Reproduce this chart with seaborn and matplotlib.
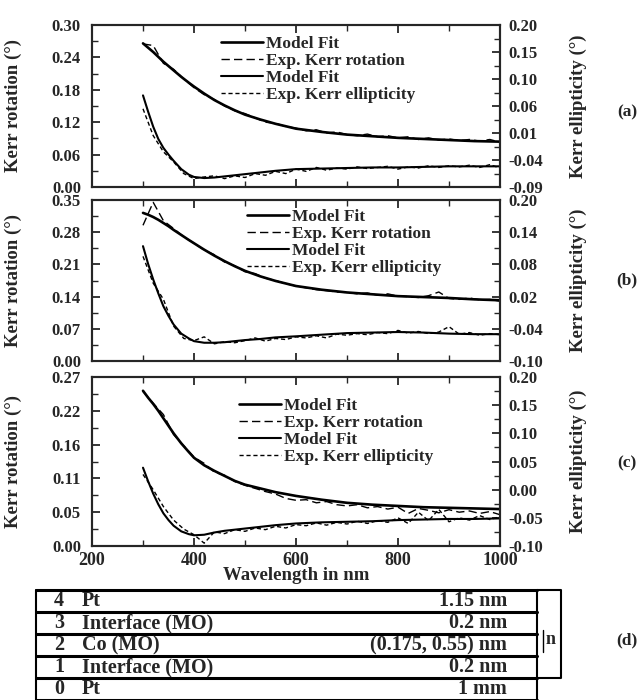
import numpy as np
import seaborn as sns
import matplotlib.pyplot as plt
from matplotlib.ticker import AutoMinorLocator, FixedLocator

sns.set_style('ticks')
plt.rcParams['font.family'] = ['Liberation Serif', 'DejaVu Serif']
plt.rcParams['font.weight'] = 'bold'
plt.rcParams['axes.labelweight'] = 'bold'

# wavelength grids (nm)
wl_fit = [300, 310, 320, 330, 340, 350, 360, 375, 390, 400, 420, 440, 460,
          480, 500, 530, 560, 600, 650, 700, 750, 800, 850, 900, 950, 1000]
wl_exp = [300, 320, 340, 360, 380, 400, 420, 440, 460, 480, 500, 520,
          540, 560, 580, 600, 620, 640, 660, 680, 700, 720, 740, 760,
          780, 800, 820, 840, 860, 880, 900, 920, 940, 960, 980, 1000]

# panel (a)
rot_fit_a = [0.266, 0.258, 0.250, 0.241, 0.232, 0.224, 0.216, 0.204, 0.193, 0.186, 0.173, 0.161, 0.151,
             0.142, 0.134, 0.125, 0.117, 0.108, 0.102, 0.097, 0.094, 0.091, 0.089, 0.087, 0.085, 0.084]
rot_exp_a = [0.265, 0.262, 0.229, 0.218, 0.200, 0.184, 0.171, 0.162, 0.150, 0.141, 0.136, 0.128,
             0.120, 0.118, 0.112, 0.109, 0.104, 0.106, 0.100, 0.102, 0.097, 0.095, 0.098, 0.093,
             0.095, 0.091, 0.093, 0.088, 0.091, 0.087, 0.089, 0.086, 0.088, 0.085, 0.088, 0.083]
ell_fit_a = [0.074, 0.045, 0.018, -0.004, -0.020, -0.032, -0.043, -0.058, -0.068, -0.072, -0.074, -0.073, -0.071,
             -0.069, -0.067, -0.064, -0.061, -0.058, -0.057, -0.056, -0.055, -0.055, -0.054, -0.053, -0.053, -0.053]
ell_exp_a = [0.050, 0.002, -0.027, -0.045, -0.066, -0.075, -0.072, -0.070, -0.075, -0.070, -0.073, -0.066,
             -0.069, -0.062, -0.066, -0.058, -0.062, -0.055, -0.060, -0.056, -0.058, -0.054, -0.057, -0.055,
             -0.053, -0.058, -0.054, -0.056, -0.052, -0.055, -0.052, -0.054, -0.051, -0.055, -0.050, -0.056]
left_labels_a = ['0.00', '0.06', '0.12', '0.18', '0.24', '0.30']
right_labels_a = ['-0.09', '-0.04', '0.01', '0.06', '0.10', '0.15', '0.20']

# panel (b)
rot_fit_b = [0.322, 0.318, 0.313, 0.307, 0.300, 0.293, 0.285, 0.274, 0.263, 0.256, 0.242, 0.229, 0.217,
             0.206, 0.196, 0.184, 0.174, 0.163, 0.155, 0.149, 0.145, 0.141, 0.139, 0.137, 0.134, 0.132]
rot_exp_b = [0.295, 0.345, 0.305, 0.288, 0.270, 0.256, 0.241, 0.231, 0.215, 0.207, 0.194, 0.190,
             0.180, 0.175, 0.168, 0.163, 0.159, 0.155, 0.153, 0.150, 0.149, 0.146, 0.148, 0.143,
             0.146, 0.141, 0.140, 0.138, 0.142, 0.150, 0.136, 0.134, 0.137, 0.133, 0.134, 0.130]
ell_fit_b = [0.114, 0.081, 0.052, 0.026, 0.002, -0.016, -0.032, -0.049, -0.058, -0.063, -0.066, -0.066, -0.065,
             -0.063, -0.061, -0.059, -0.056, -0.054, -0.051, -0.048, -0.047, -0.046, -0.047, -0.049, -0.050, -0.050]
ell_exp_b = [0.095, 0.045, 0.015, -0.035, -0.058, -0.062, -0.055, -0.068, -0.064, -0.066, -0.062, -0.057,
             -0.063, -0.058, -0.060, -0.055, -0.057, -0.053, -0.057, -0.050, -0.052, -0.049, -0.051, -0.047,
             -0.049, -0.043, -0.048, -0.045, -0.049, -0.046, -0.036, -0.050, -0.047, -0.052, -0.049, -0.051]
left_labels_b = ['0.00', '0.07', '0.14', '0.21', '0.28', '0.35']
right_labels_b = ['-0.10', '-0.04', '0.02', '0.08', '0.14', '0.20']

# panel (c)
rot_fit_c = [0.248, 0.237, 0.227, 0.216, 0.204, 0.192, 0.180, 0.164, 0.150, 0.141, 0.129, 0.120, 0.112,
             0.104, 0.098, 0.092, 0.086, 0.080, 0.074, 0.069, 0.066, 0.064, 0.062, 0.061, 0.060, 0.059]
rot_exp_c = [0.247, 0.228, 0.210, 0.178, 0.160, 0.142, 0.132, 0.118, 0.113, 0.103, 0.097, 0.092,
             0.087, 0.083, 0.076, 0.073, 0.074, 0.069, 0.071, 0.066, 0.064, 0.066, 0.061, 0.063,
             0.059, 0.062, 0.052, 0.060, 0.057, 0.053, 0.058, 0.054, 0.056, 0.052, 0.055, 0.050]
ell_fit_c = [0.039, 0.015, -0.007, -0.026, -0.042, -0.054, -0.064, -0.074, -0.079, -0.081, -0.080, -0.076, -0.073,
             -0.071, -0.069, -0.066, -0.063, -0.060, -0.058, -0.057, -0.056, -0.054, -0.053, -0.052, -0.052, -0.051]
ell_exp_c = [0.027, 0.000, -0.030, -0.054, -0.070, -0.080, -0.095, -0.075, -0.078, -0.071, -0.074, -0.068,
             -0.071, -0.065, -0.068, -0.062, -0.064, -0.059, -0.063, -0.058, -0.061, -0.056, -0.060, -0.055,
             -0.058, -0.050, -0.060, -0.040, -0.055, -0.035, -0.057, -0.050, -0.054, -0.046, -0.053, -0.048]
left_labels_c = ['0.00', '0.05', '0.11', '0.16', '0.22', '0.27']
right_labels_c = ['-0.10', '-0.05', '0.00', '0.05', '0.10', '0.15', '0.20']

x_labels = ['200', '400', '600', '800', '1000']

# layer table (d)
layer_num = ['4', '3', '2', '1', '0']
layer_name = ['Pt', 'Interface (MO)', 'Co (MO)', 'Interface (MO)', 'Pt']
layer_thick = ['1.15 nm', '0.2 nm', '(0.175, 0.55) nm', '0.2 nm', '1 mm']


def set_axis(axis, labels):
    lo, hi = float(labels[0]), float(labels[-1])
    axis.set_major_locator(FixedLocator(np.linspace(lo, hi, len(labels))))
    axis.set_ticklabels(labels)
    axis.set_minor_locator(AutoMinorLocator(2))
    return lo, hi


def draw_panel(rect, rot_fit, rot_exp, ell_fit, ell_exp, left_labels, right_labels,
               leg_anchor, tag, tag_y, show_x=False):
    ax = fig.add_axes(rect)
    ax2 = ax.twinx()
    sns.lineplot(x=wl_fit, y=rot_fit, ax=ax, color='black', lw=1.9, label='Model Fit')
    sns.lineplot(x=wl_exp, y=rot_exp, ax=ax, color='black', lw=1.0,
                 linestyle=(0, (6, 3)), label='Exp. Kerr rotation')
    sns.lineplot(x=wl_fit, y=ell_fit, ax=ax2, color='black', lw=1.5, label='Model Fit')
    sns.lineplot(x=wl_exp, y=ell_exp, ax=ax2, color='black', lw=1.0,
                 linestyle=(0, (3, 2)), label='Exp. Kerr ellipticity')

    lo, hi = set_axis(ax.yaxis, left_labels)
    ax.set_ylim(lo, hi)
    lo, hi = set_axis(ax2.yaxis, right_labels)
    ax2.set_ylim(lo, hi)
    ax.set_xlim(200, 1000)
    ax.xaxis.set_major_locator(FixedLocator([int(v) for v in x_labels]))
    ax.xaxis.set_minor_locator(AutoMinorLocator(2))

    ax.tick_params(axis='both', which='both', direction='in', top=True, right=False,
                   labelsize=12, pad=8)
    ax.tick_params(which='major', length=6, width=1.3)
    ax.tick_params(which='minor', length=4, width=1.0)
    ax2.tick_params(axis='y', which='both', direction='in', labelsize=12, pad=6)
    ax2.tick_params(which='major', length=6, width=1.3)
    ax2.tick_params(which='minor', length=4, width=1.0)
    if show_x:
        ax.set_xticklabels(x_labels)
        ax.tick_params(axis='x', labelsize=13, pad=4)
        ax.set_xlabel('Wavelength in nm', fontsize=13.5, labelpad=-1)
    else:
        ax.tick_params(axis='x', labelbottom=False)

    for a in (ax, ax2):
        for s in a.spines.values():
            s.set_linewidth(1.5)
            s.set_visible(True)

    ax.set_ylabel('Kerr rotation (°)', fontsize=13.5)
    ax.yaxis.set_label_coords(-0.172, 0.5)
    ax2.set_ylabel('Kerr ellipticity (°)', fontsize=13.5)
    ax2.yaxis.set_label_coords(1.17, 0.5)

    h1, l1 = ax.get_legend_handles_labels()
    h2, l2 = ax2.get_legend_handles_labels()
    ax.get_legend().remove()
    ax2.legend(h1 + h2, l1 + l2, loc='upper left', bbox_to_anchor=leg_anchor, frameon=False,
               fontsize=12.5, handlelength=2.4, handletextpad=0.2, labelspacing=0.05,
               borderpad=0, borderaxespad=0)
    fig.text(627 / 642, 1 - tag_y / 700, tag, ha='center', va='center', fontsize=12.5)
    return ax


fig = plt.figure(figsize=(6.42, 7.00), dpi=100)
W, H = 642, 700
x0, x1 = 92, 500

draw_panel([x0 / W, 1 - 187 / H, (x1 - x0) / W, 162 / H], rot_fit_a, rot_exp_a, ell_fit_a, ell_exp_a,
           left_labels_a, right_labels_a, (0.317, 0.935), '(a)', 112)
draw_panel([x0 / W, 1 - 361 / H, (x1 - x0) / W, 161 / H], rot_fit_b, rot_exp_b, ell_fit_b, ell_exp_b,
           left_labels_b, right_labels_b, (0.38, 0.945), '(b)', 280)
draw_panel([x0 / W, 1 - 546 / H, (x1 - x0) / W, 169 / H], rot_fit_c, rot_exp_c, ell_fit_c, ell_exp_c,
           left_labels_c, right_labels_c, (0.36, 0.875), '(c)', 463, show_x=True)

# table (d)
tx0, tx1 = 36, 537
tab = fig.add_axes([tx0 / W, 0, (tx1 - tx0) / W, 110 / H])
tab.set_xlim(0, 1)
tab.set_ylim(0, 5)
tab.axis('off')
for k in range(6):
    tab.plot([0, 1], [k, k], color='black', lw=2.2, clip_on=False)
tab.plot([0, 0], [0, 5], color='black', lw=1.5, clip_on=False)
tab.plot([1, 1], [0, 5], color='black', lw=1.5, clip_on=False)
for i, (num, name, thick) in enumerate(zip(layer_num, layer_name, layer_thick)):
    yc = 4.5 - i
    tab.text(0.046, yc, num, ha='center', va='center', fontsize=14.5)
    tab.text(0.092, yc, name, ha='left', va='center', fontsize=14.5)
    tab.text(0.94, yc, thick, ha='right', va='center', fontsize=14.5)
bx = (561 - tx0) / (tx1 - tx0)
tab.plot([1.0, bx, bx, 1.0], [5, 5, 1, 1], color='black', lw=1.5, clip_on=False)
tab.plot([1.012, 1.012], [2.2, 3.2], color='black', lw=1.0, clip_on=False)
tab.text(1.028, 2.75, 'n', ha='center', va='center', fontsize=13)
fig.text(627 / W, 1 - 640 / H, '(d)', ha='center', va='center', fontsize=12.5)

fig.savefig('out.png', dpi=100)
